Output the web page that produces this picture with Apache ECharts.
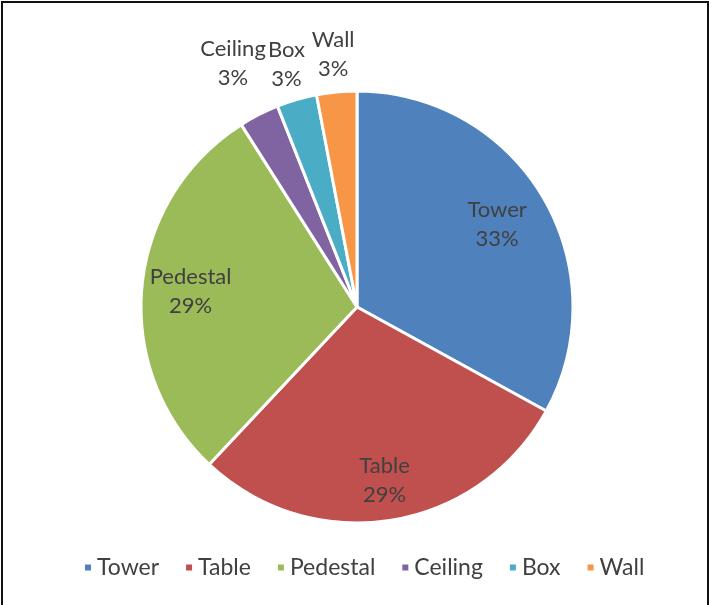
<!DOCTYPE html>
<html>
<head>
<meta charset="utf-8">
<script src="https://cdn.jsdelivr.net/npm/echarts@6/dist/echarts.min.js"></script>
<style>
  html, body { margin: 0; padding: 0; background: #fff; }
  #chart { position: absolute; left: 0; top: 0; width: 709px; height: 605px; }
  #frame { position: absolute; left: 1px; top: 1px; width: 704px; height: 610px;
           border: 2px solid #111; border-bottom: none; pointer-events: none; }
</style>
</head>
<body>
<div id="chart"></div>
<div id="frame"></div>
<script>
const categories = ['Tower', 'Table', 'Pedestal', 'Ceiling', 'Box', 'Wall']
const shares = [33, 29, 29, 3, 3, 3]
const colors = ['#4F81BD', '#C0504D', '#9BBB59', '#8064A2', '#4BACC6', '#F79646']

const textColor = '#404040'
const font = 'Lato, "Open Sans", sans-serif'
const center = [357, 307]
const R = 216

const chart = echarts.init(document.getElementById('chart'))

const labelStyle = {
  position: 'inside',
  formatter: p => p.name + '\n' + p.value + '%',
  color: textColor,
  fontFamily: font,
  fontSize: 22,
  lineHeight: 29
}

// transparent ring, only there to carry the labels of some slices
function labelRing(names, inner, outer) {
  return {
    type: 'pie',
    silent: true,
    center: center,
    radius: [R * inner, R * outer],
    startAngle: 90,
    avoidLabelOverlap: false,
    labelLayout: { hideOverlap: false },
    label: labelStyle,
    labelLine: { show: false },
    itemStyle: { color: 'transparent' },
    emphasis: { disabled: true },
    data: categories.map((name, i) => ({
      name,
      value: shares[i],
      label: { show: names.indexOf(name) >= 0 }
    }))
  }
}

chart.setOption({
  color: colors,
  animation: false,
  legend: {
    data: categories,
    bottom: 21,
    left: 78,
    icon: 'rect',
    itemWidth: 8,
    itemHeight: 8,
    itemGap: 25,
    textStyle: { color: textColor, fontFamily: font, fontSize: 23 }
  },
  series: [
    {
      type: 'pie',
      center: center,
      radius: [0, R],
      startAngle: 90,
      label: { show: false },
      labelLine: { show: false },
      itemStyle: { borderColor: '#fff', borderWidth: 3 },
      emphasis: { disabled: true },
      data: categories.map((name, i) => ({ name, value: shares[i] }))
    },
    labelRing(['Tower'], 0.5, 0.98),
    labelRing(['Table'], 0.58, 1.02),
    labelRing(['Pedestal'], 0.52, 1),
    labelRing(['Ceiling'], 1.15, 1.35),
    labelRing(['Box'], 1.06, 1.25),
    labelRing(['Wall'], 1.06, 1.26)
  ]
})
</script>
</body>
</html>
